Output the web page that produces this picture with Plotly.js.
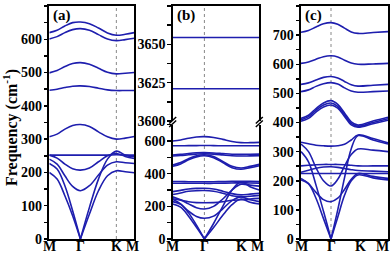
<!DOCTYPE html>
<html><head><meta charset="utf-8">
<script src="https://cdn.plot.ly/plotly-3.0.1.min.js"></script>
<style>html,body{margin:0;padding:0;background:#fff;overflow:hidden}#g{width:392px;height:253px}</style>
</head><body><div id="g"></div>
<script>
// k-path sample positions (M, ..., Γ, ..., K, ..., M)
const kHex = [0, 0.25, 0.5, 0.75, 1, 1.29, 1.58, 1.87, 2.155, 2.44, 2.732];
const kC   = [0, 0.25, 0.5, 0.75, 1, 1.225, 1.45, 1.675, 1.9, 2.4, 2.9];
const hexTicks = [0, 1, 2.155, 2.732];
const cTicks = [0, 1, 1.9, 2.9];
const tickText = ['M', 'Γ', 'K', 'M'];
const panelLabels = ['(a)', '(b)', '(c)'];

// panel (a) bands, cm^-1
const a1  = [620,627,640,650,652,647,634,619,612,615,620];
const a2  = [601,608,620,629,632,627,614,601,596,599,603];
const a3  = [499,506,518,527,530,525,513,501,496,498,500];
const a4  = [447,450,455,459,460,458,453,448,446,446,446];
const a5  = [307,315,330,341,344,338,322,307,300,303,308];
const a6  = [252,252,252,252,252,252,252,252,253,252,252];
const a7  = [252,243,225,211,207,213,232,250,257,248,242];
const a8  = [240,225,190,158,145,160,192,222,232,229,227];
const a9  = [227,210,160,85,0,95,180,240,264,252,247];
const a10 = [200,180,130,70,0,75,145,190,205,202,199];

// panel (b) bands, lower part
const b1  = [600,606,617,625,627,622,610,597,590,590,592];
const b2  = [571,571,572,572,573,572,571,571,571,571,571];
const b3  = [514,518,524,528,529,527,523,519,518,519,520];
const b4  = [508,511,516,520,522,520,515,510,508,509,510];
const b5  = [453,468,492,510,516,505,475,445,435,445,457];
const b6  = [445,460,485,503,510,498,468,437,427,437,449];
const b7  = [352,352,351,351,351,351,352,353,354,353,352];
const b8  = [341,341,341,341,341,341,342,343,344,343,342];
const b9  = [290,298,306,310,311,306,293,278,270,275,280];
const b10 = [273,282,292,296,297,292,280,265,258,262,267];
const b11 = [247,238,228,223,222,223,228,237,240,245,249];
const b12 = [258,240,215,192,184,200,245,300,335,330,324];
const b13 = [243,215,170,138,127,140,185,235,258,240,229];
const b14 = [229,212,160,85,0,95,200,300,350,320,300];
const b15 = [214,195,140,72,0,70,145,210,245,225,214];
// panel (b) bands, upper part
const b16 = [3654.5,3654.5,3654.5,3654.5,3654.5,3654.5,3654.5,3654.5,3654.5,3654.5,3654.5];
const b17 = [3621,3621,3621,3621,3621,3621,3621,3621,3621,3621,3621];

// panel (c) bands
const c1  = [710,716,728,739,743,737,724,711,706,709,712];
const c2  = [603,608,617,626,629,625,614,604,600,601,603];
const c3  = [531,536,546,555,558,553,541,530,525,528,531];
const c4  = [506,512,524,533,537,532,519,508,504,506,508];
const c5  = [414,425,448,467,475,462,433,402,391,405,418];
const c6  = [409,420,442,460,467,455,427,397,387,400,413];
const c7  = [404,414,436,453,460,449,421,392,384,396,408];
const c8  = [332,327,322,320,319,320,325,340,357,345,330];
const c9  = [326,300,245,200,182,205,250,290,309,305,300];
const c10 = [300,265,185,95,0,100,210,310,355,340,326];
const c11 = [251,253,255,256,256,256,255,253,251,251,251];
const c12 = [229,236,243,247,248,246,242,238,235,233,231];
const c13 = [225,225,225,225,225,225,225,225,225,225,225];
const c14 = [208,190,160,135,128,140,170,205,225,215,208];
const c15 = [203,190,140,70,0,75,150,200,220,210,203];

const bandsA = [a1,a2,a3,a4,a5,a6,a7,a8,a9,a10];
const bandsBlow = [b1,b2,b3,b4,b5,b6,b7,b8,b9,b10,b11,b12,b13,b14,b15];
const bandsBup = [b16,b17];
const bandsC = [c1,c2,c3,c4,c5,c6,c7,c8,c9,c10,c11,c12,c13,c14,c15];

const W = 392, H = 253;
const px = v => v / W, py = v => 1 - v / H;
const LC = '#1e1eae';
const traces = [];
function addBand(k, vals, xa, ya) {
  const gi = 4;
  const segs = (vals[gi] === 0) ? [[0, gi + 1], [gi, vals.length]] : [[0, vals.length]];
  segs.forEach(s => traces.push({
    x: k.slice(s[0], s[1]), y: vals.slice(s[0], s[1]), xaxis: xa, yaxis: ya,
    mode: 'lines', line: {color: LC, width: 1.6, shape: 'spline', smoothing: 1},
    hoverinfo: 'skip', showlegend: false
  }));
}
bandsA.forEach(b => addBand(kHex, b, 'x', 'y'));
bandsBlow.forEach(b => addBand(kHex, b, 'x2', 'y3'));
bandsBup.forEach(b => addBand(kHex, b, 'x3', 'y5'));
bandsC.forEach(b => addBand(kC, b, 'x4', 'y7'));

const dA = [px(49.3), px(134.3)], dB = [px(172.7), px(259.3)], dC = [px(301), px(388)];
const yFull = [py(239), py(6)], yBlow = [py(239), py(124.7)], yBup = [py(121), py(6)];
const tf = {family: 'Liberation Serif', size: 14, color: '#000', weight: 'bold'};
const xf = {family: 'Liberation Serif', size: 14, color: '#000', weight: 'bold'};

function xax(dom, anchor, range, tv, extra) {
  return Object.assign({domain: dom, anchor: anchor, range: range, tickvals: tv,
    ticks: '', showticklabels: false, showgrid: false, zeroline: false,
    showline: true, linecolor: '#000', linewidth: 2, mirror: true, fixedrange: true}, extra || {});
}
function yax(dom, anchor, range, dt, mdt, extra) {
  return Object.assign({domain: dom, anchor: anchor, range: range, dtick: dt, tick0: range[0],
    ticks: 'outside', ticklen: 3.5, tickwidth: 1.5, tickcolor: '#000', tickfont: tf, ticklabelstandoff: -1,
    minor: {ticks: 'outside', ticklen: 3.5, tickwidth: 1.5, tickcolor: '#000', dtick: mdt, tick0: range[0], showgrid: false},
    showgrid: false, zeroline: false, showline: true, linecolor: '#000', linewidth: 2, mirror: true,
    fixedrange: true}, extra || {});
}
function yov(over, anchor, range, dt, mdt) {
  return {overlaying: over, anchor: anchor, side: 'left', range: range, dtick: dt, tick0: range[0],
    ticks: 'inside', ticklen: 3.5, tickwidth: 1.5, tickcolor: '#000', showticklabels: false,
    minor: {ticks: 'inside', ticklen: 3.5, tickwidth: 1.5, tickcolor: '#000', dtick: mdt, tick0: range[0], showgrid: false},
    showgrid: false, zeroline: false, showline: false, fixedrange: true};
}

const layout = {
  width: W, height: H, margin: {l: 0, r: 0, t: 0, b: 0},
  paper_bgcolor: '#fff', plot_bgcolor: 'rgba(0,0,0,0)', showlegend: false,
  xaxis: xax(dA, 'y', [0, 2.732], hexTicks),
  yaxis: yax(yFull, 'x', [0, 700], 100, 50),
  yaxis2: yov('y', 'x', [0, 700], 100, 50),
  xaxis2: xax(dB, 'y3', [0, 2.732], hexTicks, {mirror: false}),
  yaxis3: yax(yBlow, 'x2', [0, 700], 200, 100),
  yaxis4: yov('y3', 'x2', [0, 700], 200, 100),
  xaxis3: xax(dB, 'y5', [0, 2.732], hexTicks, {mirror: false, side: 'top'}),
  yaxis5: yax(yBup, 'x3', [3600, 3675], 25, 12.5),
  yaxis6: yov('y5', 'x3', [3600, 3675], 25, 12.5),
  xaxis4: xax(dC, 'y7', [0, 2.9], cTicks),
  yaxis7: yax(yFull, 'x4', [0, 800], 100, 50),
  yaxis8: yov('y7', 'x4', [0, 800], 100, 50),
  shapes: [],
  annotations: []
};

// high-symmetry point labels under each panel (paper coordinates from each axis)
const labelY = py(246);
function addKLabels(dom, range, ticks, lastRightEdgePx, shiftKPx) {
  ticks.forEach((t, i) => {
    let xp = dom[0] * W + (t - range[0]) / (range[1] - range[0]) * (dom[1] - dom[0]) * W;
    let anchor = 'center';
    if (i === 3 && lastRightEdgePx) { xp = lastRightEdgePx; anchor = 'right'; }
    else if (i === 3) xp -= 2;
    if (i === 2) xp += shiftKPx;
    layout.annotations.push({text: tickText[i], xref: 'paper', yref: 'paper', x: px(xp), y: labelY,
      xanchor: anchor, yanchor: 'middle', showarrow: false, font: xf, borderpad: 0});
  });
}
addKLabels(dA, [0, 2.732], hexTicks, 0, 0);
addKLabels(dB, [0, 2.732], hexTicks, 0, 0);
addKLabels(dC, [0, 2.9], cTicks, 390, 2);

// dotted guide lines at K (a) and Γ (b, c)
layout.shapes.push({type: 'line', xref: 'x', yref: 'paper', x0: hexTicks[2], x1: hexTicks[2], y0: yFull[0], y1: yFull[1],
  line: {color: '#888', width: 1, dash: 'dot'}, layer: 'below'});
layout.shapes.push({type: 'line', xref: 'x2', yref: 'paper', x0: hexTicks[1], x1: hexTicks[1], y0: yFull[0], y1: yFull[1],
  line: {color: '#888', width: 1, dash: 'dot'}, layer: 'below'});
layout.shapes.push({type: 'line', xref: 'x4', yref: 'paper', x0: cTicks[1], x1: cTicks[1], y0: yFull[0], y1: yFull[1],
  line: {color: '#888', width: 1, dash: 'dot'}, layer: 'below'});
// axis-break marks on panel (b)
[172.7, 259.3].forEach(xp => {
  [0, 3.5].forEach(off => layout.shapes.push({type: 'line', xref: 'paper', yref: 'paper',
    x0: px(xp - 3.5), y0: py(127 - off), x1: px(xp + 3.5), y1: py(120.5 - off),
    line: {color: '#000', width: 1.5}}));
});

// y title
layout.annotations.push({text: 'Frequency (cm<sup>-1</sup>)', xref: 'paper', yref: 'paper',
  x: px(11), y: py(128), xanchor: 'center', yanchor: 'middle', textangle: -90, showarrow: false,
  font: {family: 'Liberation Serif', size: 16, color: '#000', weight: 'bold'}});
// panel labels
[[51, panelLabels[0]], [175, panelLabels[1]], [303, panelLabels[2]]].forEach(p => layout.annotations.push({
  text: p[1], xref: 'paper', yref: 'paper', x: px(p[0]), y: py(16), xanchor: 'left', yanchor: 'middle',
  showarrow: false, font: {family: 'Liberation Serif', size: 15, color: '#000', weight: 'bold'}}));

Plotly.newPlot('g', traces, layout, {staticPlot: true, displayModeBar: false});
</script></body></html>
